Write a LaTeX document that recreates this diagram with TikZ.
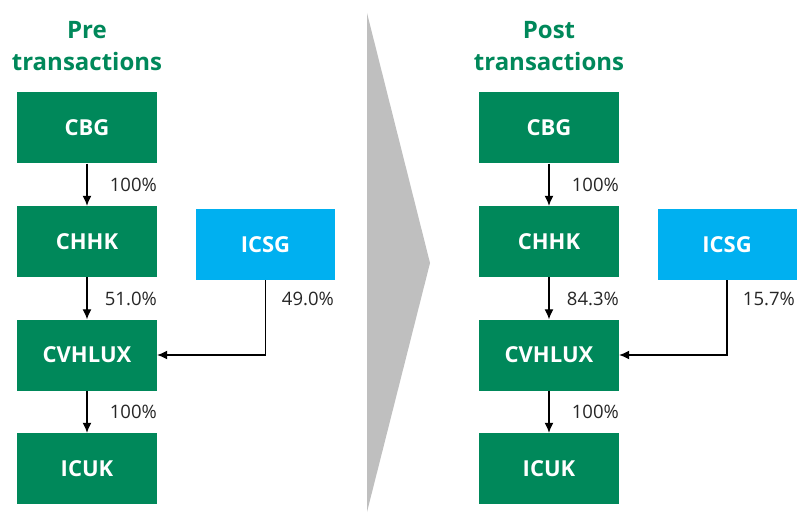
\documentclass[tikz,border=0pt]{standalone}
\usepackage{fontspec}
\setmainfont{Open Sans}
\usetikzlibrary{arrows.meta}
\definecolor{cgreen}{RGB}{0,136,90}
\definecolor{cblue}{RGB}{0,176,240}
\definecolor{cgrey}{RGB}{191,191,191}
\tikzstyle{block} = [rectangle, fill=cgreen, text=white, inner sep=0pt,
font=\fontsize{22}{26}\selectfont\bfseries, minimum width=140pt, minimum height=71pt]
\tikzstyle{block2} = [block, fill=cblue, minimum width=139pt]
\tikzstyle{pct} = [anchor=east, inner sep=0pt, text=black!85, font=\fontsize{18.5}{22}\selectfont]
\tikzstyle{heading} = [text=cgreen, align=center, font=\fontsize{24}{32}\selectfont\bfseries]
\tikzstyle{line} = [draw, line width=1.2pt, -{Latex[length=10pt,width=9pt]}]

\begin{document}
\begin{tikzpicture}[x=1pt, y=-1pt]
	\useasboundingbox (0,0) rectangle (797,513);
	\fill [cgrey] (367,13) -- (430,263) -- (367,512) -- cycle;
	
	% pre transactions
	\node [heading] (preT) at (87,46) {Pre\\transactions};
	\node [block] (cbgL) at (87,128) {CBG};
	\node [block] (chhkL) at (87,241.5) {CHHK};
	\node [block] (cvhluxL) at (87,355) {CVHLUX};
	\node [block] (icukL) at (87,468.5) {ICUK};
	\node [block2] (icsgL) at (265.5,244.5) {ICSG};
	\node [pct] (pL1) at (157,185) {100\%};
	\node [pct] (pL2) at (157,299) {51.0\%};
	\node [pct] (pL3) at (334,299) {49.0\%};
	\node [pct] (pL4) at (157,412) {100\%};
	\path [line] (cbgL) -- (chhkL);
	\path [line] (chhkL) -- (cvhluxL);
	\path [line] (cvhluxL) -- (icukL);
	\path [line] (icsgL.south) |- (cvhluxL.east);
	
	% post transactions
	\node [heading] (postT) at (549,46) {Post\\transactions};
	\node [block] (cbgR) at (549,128) {CBG};
	\node [block] (chhkR) at (549,241.5) {CHHK};
	\node [block] (cvhluxR) at (549,355) {CVHLUX};
	\node [block] (icukR) at (549,468.5) {ICUK};
	\node [block2] (icsgR) at (727,244.5) {ICSG};
	\node [pct] (pR1) at (619,185) {100\%};
	\node [pct] (pR2) at (619,299) {84.3\%};
	\node [pct] (pR3) at (795,299) {15.7\%};
	\node [pct] (pR4) at (619,412) {100\%};
	\path [line] (cbgR) -- (chhkR);
	\path [line] (chhkR) -- (cvhluxR);
	\path [line] (cvhluxR) -- (icukR);
	\path [line] (icsgR.south) |- (cvhluxR.east);
\end{tikzpicture}
\end{document}
